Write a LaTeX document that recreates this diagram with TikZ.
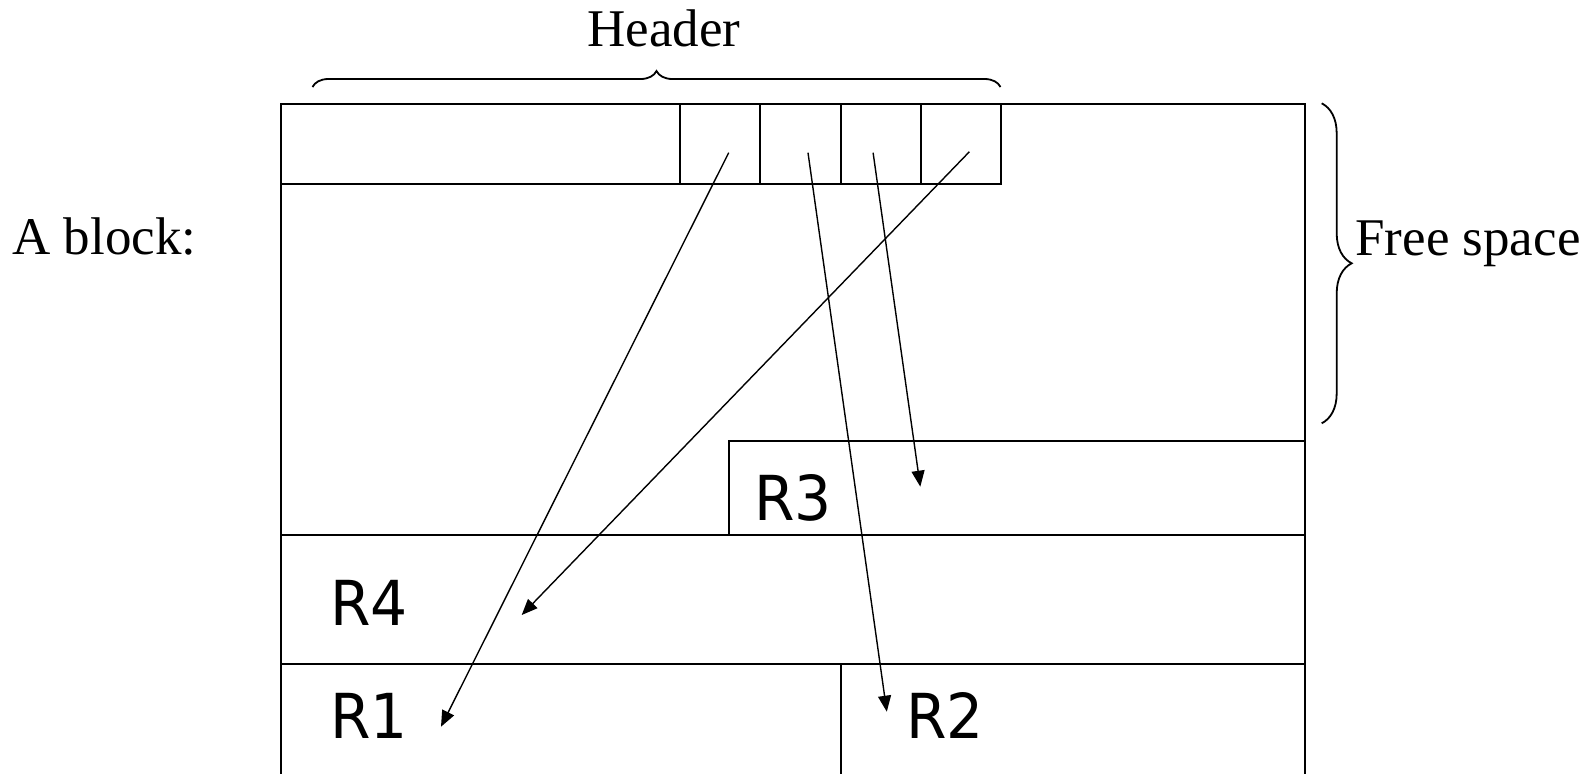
\documentclass[tikz,border=0pt]{standalone}
\usepackage{fontspec}
\setmainfont{Liberation Serif}
\newfontfamily\recfont[FakeStretch=0.94]{DejaVu Sans}
\usetikzlibrary{positioning,arrows.meta,decorations.pathreplacing}

\begin{document}
\begin{tikzpicture}[
  x=0.5pt, y=-0.5pt,
  >={Triangle[length=8pt,width=6.5pt]},
  frame/.style={draw, line width=1pt, inner sep=0pt, outer sep=0pt},
  cell/.style={frame, minimum width=40.125pt, minimum height=40.1pt},
  rec/.style={frame, anchor=north west},
  lbl/.style={font=\fontsize{26.5}{30}\selectfont, inner sep=0pt},
  rlbl/.style={font=\recfont\fontsize{31}{34}\selectfont, inner sep=0pt, anchor=base west},
  ptr/.style={->, line width=0.7pt},
  brc/.style={decorate, decoration={brace, amplitude=#1}, line width=0.9pt},
]
\useasboundingbox (0,0) rectangle (1592,773);

% ---------- The block and its header ----------
\node[rec, minimum width=512pt, minimum height=360pt] (blk) at (281,103.6) {};
\node[rec, minimum width=199.5pt, minimum height=40.1pt] (hdr) at (281,103.6) {};
\node[cell, right=0pt of hdr] (c1) {};
\node[cell, right=0pt of c1] (c2) {};
\node[cell, right=0pt of c2] (c3) {};
\node[cell, right=0pt of c3] (c4) {};

% ---------- Records ----------
\node[rec, minimum width=288pt, minimum height=47.2pt] (r3) at (729,440.6) {};
\node[rec, minimum width=512pt, minimum height=64.5pt] (r4) at (281,535) {};
\node[rec, minimum width=279.85pt, minimum height=80pt] (r1) at (281,664) {};
\node[rec, minimum width=232.15pt, minimum height=80pt] (r2) at (840.7,664) {};

\node[rlbl] (t3) at (754,520) {R3};
\node[rlbl] (t4) at (330,625) {R4};
\node[rlbl] (t1) at (330,738.3) {R1};
\node[rlbl] (t2) at (906,738.3) {R2};

% ---------- Texts and braces ----------
\node[lbl, anchor=base] (thdr) at (664,46.7) {Header};
\node[lbl, anchor=base west] (tblk) at (12,254) {A block:};
\node[lbl, anchor=base west] (tfree) at (1355,255) {Free space};

\coordinate (bh1) at (312.5,87);
\coordinate (bh2) at (1000.5,87);
\draw[brc=8pt] (bh1) -- (bh2);
\coordinate (bf1) at (1321.7,103.3);
\coordinate (bf2) at (1321.7,423.3);
\draw[brc=15pt] (bf1) -- (bf2);

% ---------- Pointers from the header to the records ----------
\coordinate (s1) at (728.7,152.7);
\coordinate (s2) at (808,152.7);
\coordinate (s3) at (873.1,152.7);
\coordinate (s4) at (969.4,151.7);
\coordinate (e1) at (441,726.7);
\coordinate (e2) at (886.8,711.7);
\coordinate (e3) at (920.3,486.7);
\coordinate (e4) at (521.7,615);

\draw[ptr] (s1) -- (e1);
\draw[ptr] (s2) -- (e2);
\draw[ptr] (s3) -- (e3);
\draw[ptr] (s4) -- (e4);

\end{tikzpicture}
\end{document}
